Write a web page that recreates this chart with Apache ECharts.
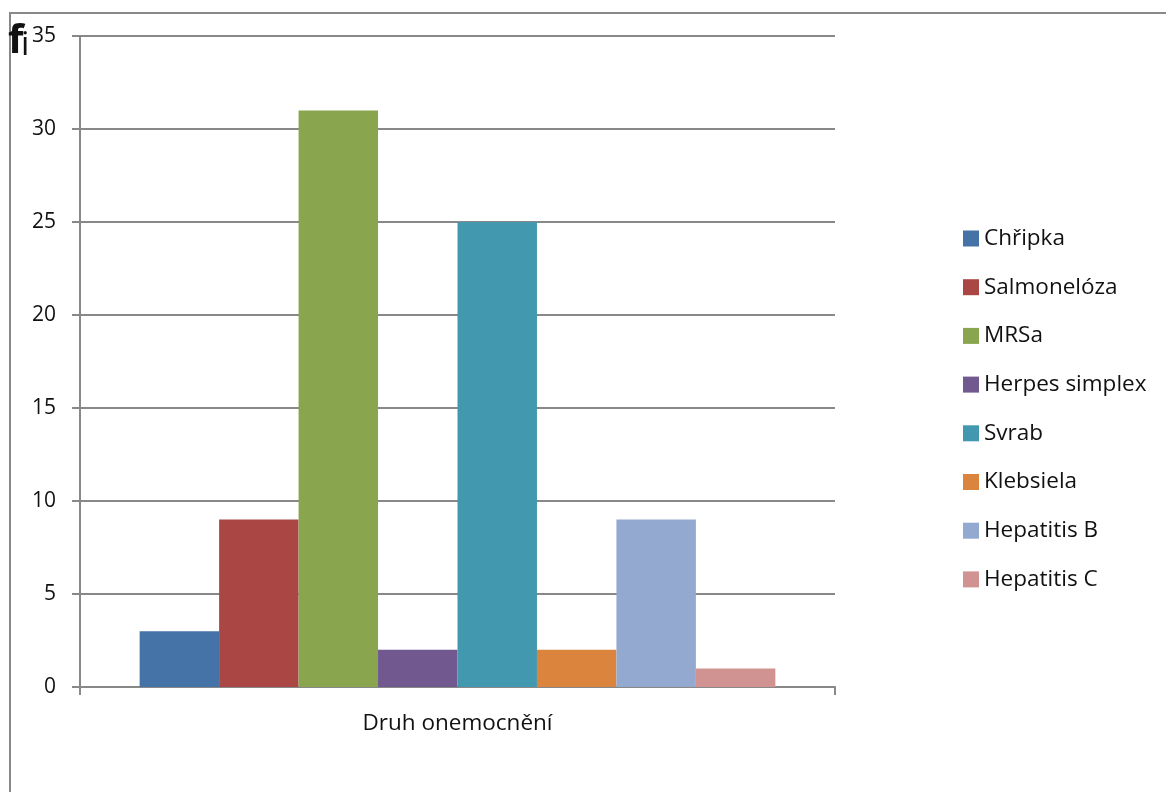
<!DOCTYPE html>
<html>
<head>
<meta charset="utf-8">
<script src="https://cdn.jsdelivr.net/npm/echarts@6/dist/echarts.min.js"></script>
<style>
  html, body { margin: 0; padding: 0; background: #fff; }
  #chart { width: 1166px; height: 792px; }
</style>
</head>
<body>
<div id="chart"></div>
<script>
// Počet případů podle druhu onemocnění
const diseases = ['Chřipka', 'Salmonelóza', 'MRSa', 'Herpes simplex', 'Svrab', 'Klebsiela', 'Hepatitis B', 'Hepatitis C'];
const counts = [3, 9, 31, 2, 25, 2, 9, 1];
const colors = ['#4572A7', '#AA4643', '#89A54E', '#71588F', '#4198AF', '#DB843D', '#93A9CF', '#D19392'];
const axisCategory = ['Druh onemocnění'];

const FONT = '"Open Sans", "Noto Sans", sans-serif';
const TEXT = '#111';
const LINE = '#888';

const chart = echarts.init(document.getElementById('chart'));

const series = diseases.map((name, i) => ({
  name: name,
  type: 'bar',
  data: [counts[i]],
  barGap: '0%',
  barCategoryGap: '15.8%',
  itemStyle: { color: colors[i] },
  emphasis: { disabled: true }
}));

chart.setOption({
  animation: false,
  color: colors,
  grid: { left: 80, right: 331, top: 36, bottom: 105, containLabel: false },
  legend: {
    orient: 'vertical',
    left: 958,
    top: 222,
    itemWidth: 16,
    itemHeight: 16,
    itemGap: 25.7,
    icon: 'rect',
    textStyle: { fontFamily: FONT, fontSize: 22.5, color: TEXT, lineHeight: 22 },
    data: diseases
  },
  xAxis: {
    type: 'category',
    data: axisCategory,
    axisLine: { lineStyle: { color: LINE, width: 2 } },
    axisTick: { show: true, length: 8, lineStyle: { color: LINE, width: 2 } },
    axisLabel: { fontFamily: FONT, fontSize: 22.5, color: TEXT, margin: 25 }
  },
  yAxis: {
    type: 'value',
    min: 0,
    max: 35,
    interval: 5,
    axisLine: { show: true, lineStyle: { color: LINE, width: 2 } },
    axisTick: { show: true, inside: false, length: 8, lineStyle: { color: LINE, width: 2 } },
    splitLine: { show: true, lineStyle: { color: LINE, width: 2 } },
    axisLabel: { fontFamily: FONT, fontSize: 21, color: TEXT, margin: 24 }
  },
  series: series,
  graphic: [
    {
      type: 'rect',
      shape: { x: 10, y: 13, width: 1300, height: 900 },
      style: { fill: null, stroke: LINE, lineWidth: 2 },
      silent: true,
      z: -1
    },
    {
      type: 'text',
      x: 8,
      y: 62,
      style: {
        text: 'f',
        fontFamily: FONT,
        fontSize: 40,
        fontWeight: 'bold',
        fill: TEXT,
        verticalAlign: 'bottom'
      }
    },
    {
      type: 'text',
      x: 21,
      y: 62,
      style: {
        text: 'i',
        fontFamily: FONT,
        fontSize: 33,
        fill: TEXT,
        verticalAlign: 'bottom'
      }
    }
  ]
});
</script>
</body>
</html>
